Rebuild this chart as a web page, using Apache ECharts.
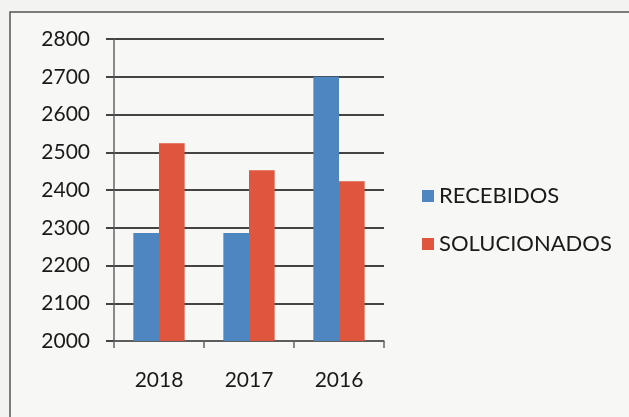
<!DOCTYPE html>
<html>
<head>
<meta charset="utf-8">
<script src="https://cdn.jsdelivr.net/npm/echarts@6/dist/echarts.min.js"></script>
<style>
  html, body { margin: 0; padding: 0; background: #f3f3f1; }
  #chart { width: 629px; height: 417px; }
</style>
</head>
<body>
<div id="chart"></div>
<script>
"use strict";
// dados
var anos = ["2018", "2017", "2016"];
var recebidos = [2286, 2286, 2700];
var solucionados = [2524, 2452, 2423];
var yTicks = [2000, 2100, 2200, 2300, 2400, 2500, 2600, 2700, 2800];

var chart = echarts.init(document.getElementById("chart"));
var fonte = "Lato, 'Open Sans', sans-serif";

chart.setOption({
  backgroundColor: "#f3f3f1",
  animation: false,
  textStyle: { fontFamily: fonte },
  // moldura do gráfico
  graphic: [{
    type: "rect",
    shape: { x: 10, y: 12, width: 640, height: 430 },
    style: { fill: "#f7f7f5", stroke: "#555", lineWidth: 1.5 },
    z: -10
  }],
  grid: { left: 114, right: 245, top: 39, bottom: 76 },
  legend: {
    orient: "vertical",
    left: 417,
    top: 180,
    icon: "rect",
    itemWidth: 12,
    itemHeight: 12,
    itemGap: 26,
    textStyle: { fontSize: 22, color: "#1a1a1a", fontFamily: fonte },
    data: ["RECEBIDOS", "SOLUCIONADOS"]
  },
  xAxis: {
    type: "category",
    data: anos,
    axisLine: { lineStyle: { color: "#666", width: 1.5 } },
    axisTick: { show: true, length: 7, lineStyle: { color: "#666", width: 1.5 } },
    axisLabel: { fontSize: 21, color: "#1a1a1a", margin: 29, fontFamily: fonte }
  },
  yAxis: {
    type: "value",
    min: yTicks[0],
    max: yTicks[yTicks.length - 1],
    interval: 100,
    axisLine: { show: true, lineStyle: { color: "#666", width: 1.5 } },
    axisTick: { show: true, length: 8, lineStyle: { color: "#444", width: 2 } },
    axisLabel: {
      fontSize: 21, color: "#1a1a1a", margin: 24, fontFamily: fonte,
      formatter: function (v) { return String(v); }
    },
    splitLine: { lineStyle: { color: "#444", width: 2 } }
  },
  series: [{
    name: "RECEBIDOS",
    type: "bar",
    data: recebidos,
    barGap: "0%",
    barCategoryGap: "43%",
    itemStyle: { color: "#4d86c0" }
  }, {
    name: "SOLUCIONADOS",
    type: "bar",
    data: solucionados,
    itemStyle: { color: "#e0553e" }
  }]
});
</script>
</body>
</html>
